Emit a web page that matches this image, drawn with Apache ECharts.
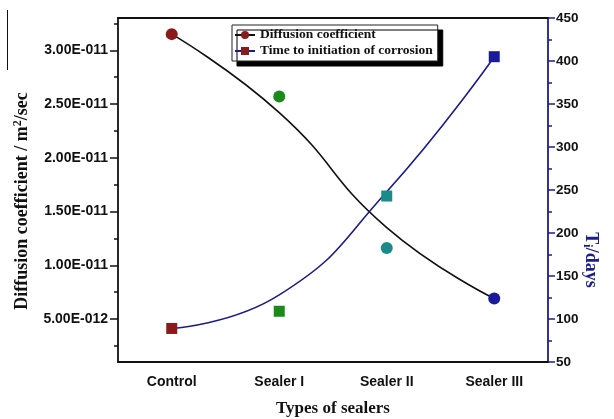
<!DOCTYPE html>
<html>
<head>
<meta charset="utf-8">
<script src="https://cdn.jsdelivr.net/npm/echarts@6/dist/echarts.min.js"></script>
<style>html,body{margin:0;padding:0;background:#fff;}#c{width:614px;height:419px;}</style>
</head>
<body>
<div id="c"></div>
<script>
// ---- data ----
const categories = ['Control', 'Sealer I', 'Sealer II', 'Sealer III'];
const diffusionPoints = [3.15e-11, 2.57e-11, 1.16e-11, 6.9e-12];
const diffusionFit = [3.15e-11, 2.42e-11, 1.35e-11, 6.9e-12];
const timePoints = [89, 109, 243, 405];
const timeFit = [89, 128, 248, 405];
const leftTickValues = [5e-12, 1e-11, 1.5e-11, 2e-11, 2.5e-11, 3e-11];
const leftMinorTickValues = [2.5e-12, 7.5e-12, 1.25e-11, 1.75e-11, 2.25e-11, 2.75e-11, 3.25e-11];
const leftRange = [1e-12, 3.3e-11];
const rightRange = [50, 450];
const rightInterval = 50;

const pointColors = ['#8b1a1a', '#1a8a1a', '#1a8b8b', '#1a1a9a'];
const navy = '#1c1c8c';
const sansBold = {fontFamily: 'Liberation Sans', fontWeight: 'bold', color: '#111'};

function sci(v) {
  const s = v.toExponential(2).split('e');
  const e = parseInt(s[1], 10);
  const sign = e < 0 ? '-' : '+';
  return s[0] + 'E' + sign + String(Math.abs(e)).padStart(3, '0');
}

const chart = echarts.init(document.getElementById('c'), null, {renderer: 'canvas'});
const xBase = {type: 'category', data: categories, boundaryGap: true, gridIndex: 0};
chart.setOption({
  animation: false,
  backgroundColor: '#fff',
  grid: {left: 118, top: 18, right: 66, bottom: 57, containLabel: false, outerBoundsMode: 'none'},
  graphic: [
    {type: 'line', shape: {x1: 7.5, y1: 10, x2: 7.5, y2: 70}, style: {stroke: '#111', lineWidth: 1}, silent: true}
  ],
  legend: {
    data: ['Diffusion coefficient', 'Time to initiation of corrosion'],
    orient: 'vertical', left: 232, top: 25, itemGap: 2, itemWidth: 20, itemHeight: 10,
    padding: [3, 5, 3, 2],
    backgroundColor: '#fff', borderColor: '#222', borderWidth: 1,
    shadowColor: '#000', shadowBlur: 0, shadowOffsetX: 5, shadowOffsetY: 5,
    textStyle: {fontFamily: 'Liberation Serif', fontWeight: 'bold', fontSize: 13.5, color: '#111'}
  },
  xAxis: [
    Object.assign({}, xBase, {
      position: 'bottom',
      name: 'Types of sealers', nameLocation: 'middle', nameGap: 38, nameMoveOverlap: false,
      nameTextStyle: {fontFamily: 'Liberation Serif', fontWeight: 'bold', fontSize: 17, color: '#111'},
      axisLine: {lineStyle: {color: '#111', width: 1.8}},
      axisTick: {alignWithLabel: true, length: 8, lineStyle: {color: '#111', width: 1.5}},
      axisLabel: Object.assign({fontSize: 14, margin: 13}, sansBold),
      splitLine: {show: false}
    }),
    Object.assign({}, xBase, {
      position: 'bottom',
      axisLine: {show: false},
      axisTick: {length: 4, lineStyle: {color: '#111', width: 1.5}},
      axisLabel: {show: false}, splitLine: {show: false}
    }),
    Object.assign({}, xBase, {
      position: 'top',
      axisLine: {lineStyle: {color: '#111', width: 1.8}},
      axisTick: {alignWithLabel: true, inside: true, length: 8, lineStyle: {color: '#111', width: 1.5}},
      axisLabel: {show: false}, splitLine: {show: false}
    }),
    Object.assign({}, xBase, {
      position: 'top',
      axisLine: {show: false},
      axisTick: {inside: true, length: 4, lineStyle: {color: '#111', width: 1.5}},
      axisLabel: {show: false}, splitLine: {show: false}
    })
  ],
  yAxis: [
    {
      type: 'value', position: 'left', min: leftRange[0], max: leftRange[1],
      name: 'Diffusion coefficient / m{sup|2}/sec', nameLocation: 'middle', nameGap: 86, nameRotate: 90,
      nameMoveOverlap: false,
      nameTextStyle: {
        fontFamily: 'Liberation Serif', fontWeight: 'bold', fontSize: 18, color: '#111',
        padding: [0, 22, 0, 0],
        rich: {sup: {fontFamily: 'Liberation Serif', fontWeight: 'bold', fontSize: 12, color: '#111', verticalAlign: 'top', padding: [0, 0, 8, 0]}}
      },
      axisLine: {show: true, lineStyle: {color: '#111', width: 1.8}},
      axisTick: {show: true, length: 8, customValues: leftTickValues, lineStyle: {color: '#111', width: 1.5}},
      axisLabel: Object.assign({fontSize: 14, margin: 10, customValues: leftTickValues, formatter: sci}, sansBold),
      splitLine: {show: false}
    },
    {
      type: 'value', position: 'right', min: rightRange[0], max: rightRange[1], interval: rightInterval,
      name: 'T{sub|i}/days', nameLocation: 'middle', nameGap: 33, nameRotate: -90,
      nameMoveOverlap: false,
      nameTextStyle: {
        fontFamily: 'Liberation Serif', fontWeight: 'bold', fontSize: 18, color: navy,
        padding: [0, 0, 0, 140],
        rich: {sub: {fontFamily: 'Liberation Serif', fontWeight: 'bold', fontSize: 12, color: navy, verticalAlign: 'bottom', padding: [8, 0, 0, 0]}}
      },
      axisLine: {show: true, lineStyle: {color: navy, width: 1.8}},
      axisTick: {show: true, length: 7, lineStyle: {color: navy, width: 1.5}},
      minorTick: {show: true, splitNumber: 2, length: 4, lineStyle: {color: navy, width: 1.5}},
      axisLabel: Object.assign({fontSize: 13.5, margin: 8}, sansBold),
      splitLine: {show: false}
    },
    {
      type: 'value', position: 'left', min: leftRange[0], max: leftRange[1],
      axisLine: {show: false},
      axisTick: {show: true, length: 4, customValues: leftMinorTickValues, lineStyle: {color: '#111', width: 1.5}},
      axisLabel: {show: false}, splitLine: {show: false}
    }
  ],
  series: [
    {
      name: 'Diffusion coefficient', type: 'line', xAxisIndex: 0, yAxisIndex: 0,
      data: diffusionFit, smooth: 0.5, showSymbol: false, symbol: 'circle', symbolSize: 11,
      itemStyle: {color: '#8b1a1a'}, lineStyle: {color: '#111', width: 1.6}, z: 2
    },
    {
      name: 'Time to initiation of corrosion', type: 'line', xAxisIndex: 0, yAxisIndex: 1,
      data: timeFit, smooth: 0.5, showSymbol: false, symbol: 'rect', symbolSize: 10,
      itemStyle: {color: '#8b1a1a'}, lineStyle: {color: navy, width: 1.6}, z: 2
    },
    {
      name: 'dcPoints', type: 'scatter', xAxisIndex: 0, yAxisIndex: 0,
      data: diffusionPoints, symbol: 'circle', symbolSize: 12,
      itemStyle: {color: p => pointColors[p.dataIndex], opacity: 1}, z: 3
    },
    {
      name: 'tiPoints', type: 'scatter', xAxisIndex: 0, yAxisIndex: 1,
      data: timePoints, symbol: 'rect', symbolSize: 11,
      itemStyle: {color: p => pointColors[p.dataIndex], opacity: 1}, z: 3
    }
  ]
});
</script>
</body>
</html>
